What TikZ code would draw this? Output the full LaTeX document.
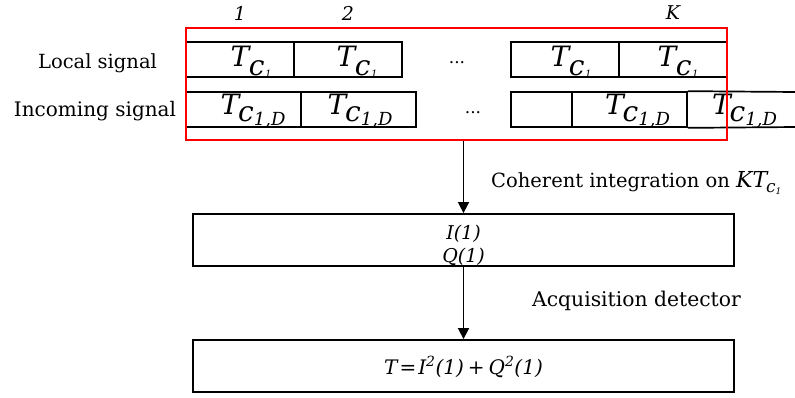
\documentclass[tikz,border=0pt]{standalone}
\usepackage{fontspec}
\setmainfont{DejaVu Serif}
\usetikzlibrary{arrows.meta}
\newcommand{\fsz}[1]{\fontsize{#1}{#1}\selectfont}
\newcommand{\tcone}{{\itshape T\kern-0.5pt\raisebox{-9pt}{c\kern0.5pt\raisebox{-2pt}{\fsz{10}1}}}}
\newcommand{\tcd}{{\itshape T\kern-1pt\raisebox{-7pt}{c\raisebox{-4pt}{\fsz{18}1,D}}}}
\begin{document}
\begin{tikzpicture}[x=1pt,y=-1pt,
  cell/.style={draw=black, line width=1.7pt, inner sep=0pt, minimum height=35pt},
  bigbox/.style={draw=black, line width=1.8pt, inner sep=0pt, minimum width=541pt, minimum height=52pt},
  frame/.style={draw=red, line width=2pt, inner sep=0pt, minimum width=541pt, minimum height=112pt},
  lbl/.style={inner sep=0pt, font=\fsz{19.5}},
  idx/.style={inner sep=0pt, font=\fsz{19}\itshape},
  dots/.style={inner sep=0pt, font=\fsz{17}},
  arr/.style={line width=1.6pt, -{Triangle[length=11pt,width=11pt]}}
]
\useasboundingbox (0,0) rectangle (795,397);

% indices
\node[idx] (i1) at (240,13) {1};
\node[idx] (i2) at (348,13) {2};
\node[idx] (iK) at (673,13) {K};

% left labels
\node[lbl, anchor=base] (ls) at (97.5,68) {Local signal};
\node[lbl, anchor=base, font=\fsz{20}] (is) at (95,116) {Incoming signal};

% local signal row
\node[cell, minimum width=108pt] (a1) at (240,59.5) {};
\node[cell, minimum width=108pt] (a2) at (348,59.5) {};
\node[cell, minimum width=108pt] (a3) at (565,59.5) {};
\node[cell, minimum width=108pt] (a4) at (673,59.5) {};
\node[dots] (ad) at (457,63) {...};

\node[inner sep=0pt, font=\fsz{28}] (ta1) at (251,62) {\tcone};
\node[inner sep=0pt, font=\fsz{28}] (ta2) at (357,62) {\tcone};
\node[inner sep=0pt, font=\fsz{28}] (ta3) at (571,62) {\tcone};
\node[inner sep=0pt, font=\fsz{28}] (ta4) at (678,62) {\tcone};

% incoming signal row
\node[cell, minimum width=115pt] (b1) at (243.5,109.5) {};
\node[cell, minimum width=115pt] (b2) at (358.5,109.5) {};
\node[cell, minimum width=61pt] (b3) at (541.5,109.5) {};
\node[cell, minimum width=115pt] (b4) at (629.5,109.5) {};
\coordinate (b5ne) at (796,92);
\coordinate (b5se) at (796,127);
\draw[line width=1.7pt] (b4.north east) -- (b5ne);
\draw[line width=1.7pt] (b4.south east) -- (b5se);
\node[dots] (bd) at (473,113) {...};

\node[inner sep=0pt, font=\fsz{28}] (tb1) at (253,111) {\tcd};
\node[inner sep=0pt, font=\fsz{28}] (tb2) at (360,111) {\tcd};
\node[inner sep=0pt, font=\fsz{28}] (tb4) at (637.5,111) {\tcd};
\node[inner sep=0pt, font=\fsz{28}] (tb5) at (744.5,111) {\tcd};

% red frame
\node[frame] (redframe) at (456.5,84) {};

% lower boxes
\node[bigbox] (ibox) at (463.5,240) {};
\node[inner sep=0pt, font=\fsz{19}\itshape, anchor=base] (itxt) at (463.5,239) {I(1)};
\node[inner sep=0pt, font=\fsz{19}\itshape, anchor=base] (qtxt) at (463.5,262) {Q(1)};

\node[bigbox] (tbox) at (463.5,366) {};
\node[inner sep=0pt, font=\fsz{20}\itshape, anchor=base] (ttxt) at (463.5,374)
  {T\kern2pt\textup{=}\kern2pt I\textsuperscript{2}(1)\kern4pt\textup{+}\kern4pt Q\textsuperscript{2}(1)};

% connectors
\draw[arr] (redframe.south -| ibox.north) -- (ibox.north);
\draw[arr] (ibox.south) -- (tbox.north);

% side labels
\node[lbl, anchor=base west] (coh) at (491,187) {Coherent integration on {\itshape\fsz{22}KT\kern-1pt\raisebox{-5pt}{\fsz{17}c\raisebox{-2pt}{\fsz{9}1}}}};
\node[lbl, anchor=base west, font=\fsz{20.3}] (acq) at (532,306) {Acquisition detector};
\end{tikzpicture}
\end{document}
